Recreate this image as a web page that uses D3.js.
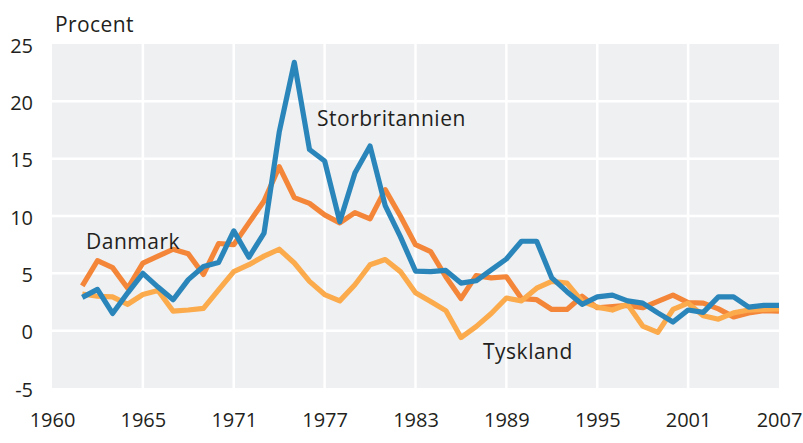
<!DOCTYPE html>
<html>
<head>
<meta charset="utf-8">
<script src="https://cdn.jsdelivr.net/npm/d3@7"></script>
<style>
  body { margin: 0; background: #fff; }
  text { font-family: "Open Sans", sans-serif; fill: #231f20; }
</style>
</head>
<body>
<script>
// inflation, procent, 1961-2007
var years = d3.range(1961, 2008);

var danmark = [3.9, 6.1, 5.5, 3.7, 5.9, 6.5, 7.1, 6.7, 4.9, 7.6,
  7.5, 9.4, 11.3, 14.3, 11.6, 11.1, 10.1, 9.4, 10.3, 9.75,
  12.3, 10.0, 7.5, 6.9, 4.7, 2.8, 4.8, 4.6, 4.7, 2.8,
  2.7, 1.85, 1.85, 3.0, 2.0, 2.1, 2.2, 2.0, 2.55, 3.1,
  2.45, 2.4, 1.9, 1.2, 1.55, 1.75, 1.7];

var storbritannien = [2.9, 3.6, 1.5, 3.3, 5.0, 3.8, 2.7, 4.45, 5.6, 5.95,
  8.7, 6.4, 8.5, 17.3, 23.4, 15.8, 14.8, 9.5, 13.75, 16.1,
  10.9, 8.2, 5.2, 5.15, 5.25, 4.15, 4.35, 5.3, 6.25, 7.8,
  7.8, 4.6, 3.4, 2.3, 2.95, 3.1, 2.6, 2.4, 1.55, 0.75,
  1.8, 1.6, 2.95, 2.95, 2.05, 2.2, 2.2];

var tyskland = [3.2, 3.0, 2.95, 2.3, 3.15, 3.5, 1.7, 1.8, 1.95, 3.55,
  5.15, 5.75, 6.5, 7.1, 5.9, 4.3, 3.15, 2.6, 4.0, 5.75,
  6.2, 5.15, 3.3, 2.55, 1.75, -0.6, 0.35, 1.5, 2.85, 2.6,
  3.7, 4.3, 4.15, 2.55, 2.05, 1.8, 2.3, 0.4, -0.15, 1.85,
  2.4, 1.3, 1.0, 1.55, 1.8, 1.85, 1.9];

var yTicks = [-5, 0, 5, 10, 15, 20, 25];
var xTickValues = [1959, 1965, 1971, 1977, 1983, 1989, 1995, 2001, 2007];
var xTickLabels = ["1960", "1965", "1971", "1977", "1983", "1989", "1995", "2001", "2007"];

var W = 803, H = 443,
    pL = 52, pT = 44, pR = 779, pB = 388;

var svg = d3.select("body").append("svg")
    .attr("width", W)
    .attr("height", H);

var x = d3.scaleLinear().domain([1959, 2007]).range([pL, pR]);
var y = d3.scaleLinear().domain([-5, 25]).range([pB, pT]);

// plot background
svg.append("rect")
    .attr("x", pL).attr("y", pT)
    .attr("width", pR - pL).attr("height", pB - pT)
    .attr("fill", "#eff0f2");

// white grid
svg.append("g").selectAll("line")
    .data(yTicks.slice(1, -1))
    .enter().append("line")
      .attr("x1", pL).attr("x2", pR)
      .attr("y1", function (d) { return y(d); })
      .attr("y2", function (d) { return y(d); })
      .attr("stroke", "#fff").attr("stroke-width", 2.5);

svg.append("g").selectAll("line")
    .data(xTickValues.slice(1, -1))
    .enter().append("line")
      .attr("y1", pT).attr("y2", pB)
      .attr("x1", function (d) { return x(d); })
      .attr("x2", function (d) { return x(d); })
      .attr("stroke", "#fff").attr("stroke-width", 2.5);

// axes (plain hyphen for negatives, like the original)
var yAxis = svg.append("g")
    .attr("transform", "translate(" + pL + ",0)")
    .call(d3.axisLeft(y).tickValues(yTicks).tickSize(0).tickPadding(19)
      .tickFormat(function (d) { return String(d); }));

var xAxis = svg.append("g")
    .attr("transform", "translate(0," + pB + ")")
    .call(d3.axisBottom(x).tickValues(xTickValues).tickSize(0).tickPadding(25)
      .tickFormat(function (d, i) { return xTickLabels[i]; }));

[yAxis, xAxis].forEach(function (a) {
  a.select(".domain").remove();
  a.selectAll("text")
    .style("font-family", "'Open Sans', sans-serif")
    .style("font-size", "20px")
    .attr("fill", "#231f20");
});
yAxis.selectAll("text").attr("dy", "0.4em");

svg.append("text")
    .attr("x", 55).attr("y", 32)
    .style("font-size", "21px")
    .style("letter-spacing", "0.4px")
    .text("Procent");

// lines
var series = [
  { name: "Danmark", values: danmark, color: "#f4863a" },
  { name: "Tyskland", values: tyskland, color: "#fbaa4c" },
  { name: "Storbritannien", values: storbritannien, color: "#2a86ba" }
];

var line = d3.line()
    .x(function (d, i) { return x(years[i]); })
    .y(function (d) { return y(d); });

svg.append("g").selectAll("path")
    .data(series)
    .enter().append("path")
      .attr("d", function (s) { return line(s.values); })
      .attr("fill", "none")
      .attr("stroke", function (s) { return s.color; })
      .attr("stroke-width", 5.2)
      .attr("stroke-linejoin", "round");

// series labels
var labels = [
  { text: "Storbritannien", x: 317, y: 126 },
  { text: "Danmark", x: 86, y: 249 },
  { text: "Tyskland", x: 483, y: 359 }
];

svg.selectAll(".lbl")
    .data(labels)
    .enter().append("text")
      .attr("class", "lbl")
      .attr("x", function (d) { return d.x; })
      .attr("y", function (d) { return d.y; })
      .style("font-size", "21px")
      .style("letter-spacing", "0.5px")
      .text(function (d) { return d.text; });
</script>
</body>
</html>
